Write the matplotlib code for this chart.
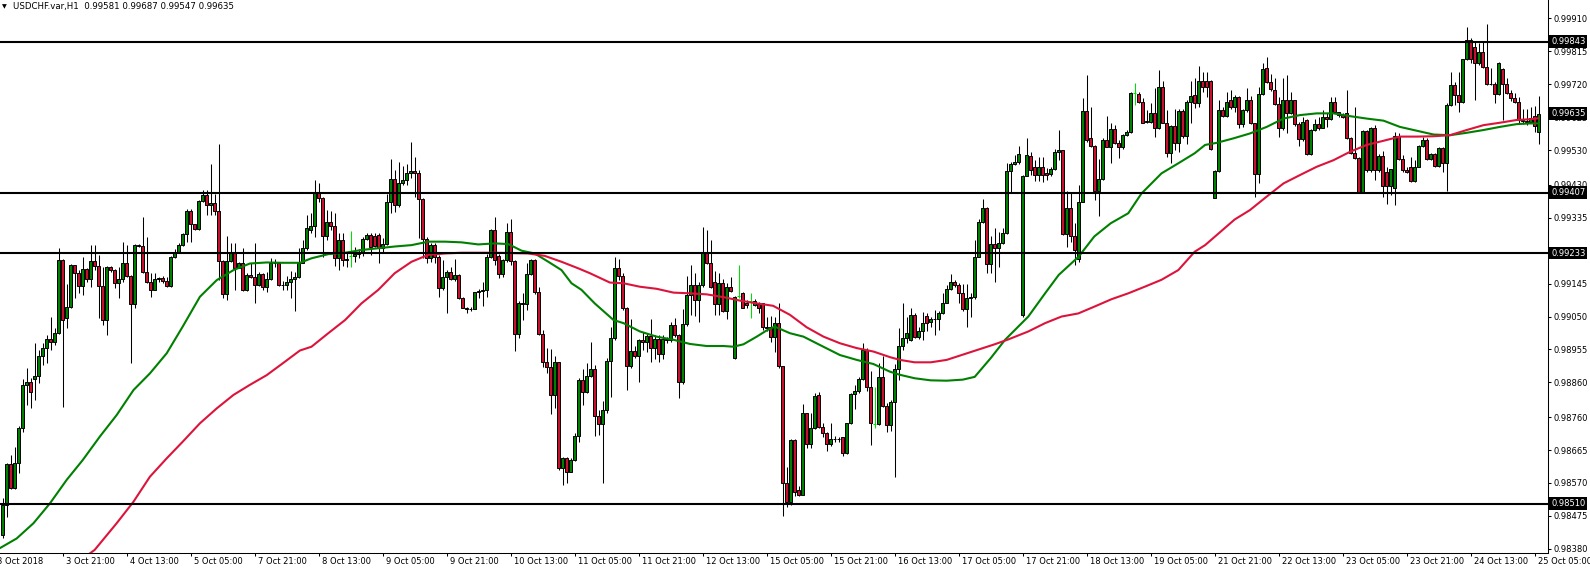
import numpy as np
import matplotlib
matplotlib.use("Agg")
import matplotlib.pyplot as plt
from matplotlib.transforms import blended_transform_factory

# USDCHF H1 bars (price)
opens = [
    0.98420, 0.98507, 0.98624, 0.98555, 0.98627, 0.98728, 0.98853, 0.98860, 0.98871, 0.98879,
    0.98936, 0.98958, 0.98984, 0.98978, 0.99002, 0.99213, 0.99045, 0.99077, 0.99199, 0.99177,
    0.99139, 0.99186, 0.99157, 0.99210, 0.99197, 0.99139, 0.99040, 0.99194, 0.99184, 0.99146,
    0.99158, 0.99203, 0.99168, 0.99085, 0.99256, 0.99254, 0.99179, 0.99149, 0.99128, 0.99158,
    0.99160, 0.99153, 0.99138, 0.99223, 0.99235, 0.99256, 0.99287, 0.99355, 0.99316, 0.99302,
    0.99383, 0.99401, 0.99372, 0.99377, 0.99354, 0.99210, 0.99114, 0.99210, 0.99237, 0.99191,
    0.99203, 0.99126, 0.99170, 0.99164, 0.99140, 0.99173, 0.99136, 0.99157, 0.99205, 0.99203,
    0.99141, 0.99140, 0.99151, 0.99158, 0.99165, 0.99205, 0.99249, 0.99300, 0.99312, 0.99405,
    0.99391, 0.99282, 0.99322, 0.99311, 0.99220, 0.99271, 0.99213, 0.99225, 0.99225, 0.99230,
    0.99237, 0.99273, 0.99285, 0.99282, 0.99285, 0.99247, 0.99258, 0.99381, 0.99446, 0.99372,
    0.99434, 0.99444, 0.99465, 0.99471, 0.99463, 0.99389, 0.99275, 0.99220, 0.99256, 0.99223,
    0.99131, 0.99165, 0.99178, 0.99158, 0.99170, 0.99103, 0.99076, 0.99072, 0.99073, 0.99120,
    0.99124, 0.99127, 0.99223, 0.99300, 0.99225, 0.99172, 0.99213, 0.99293, 0.99210, 0.98999,
    0.99088, 0.99086, 0.99172, 0.99213, 0.99120, 0.99000, 0.98918, 0.98905, 0.98824, 0.98918,
    0.98612, 0.98643, 0.98603, 0.98636, 0.98706, 0.98867, 0.98831, 0.98879, 0.98900, 0.98762,
    0.98739, 0.98781, 0.98922, 0.98987, 0.99189, 0.99168, 0.99076, 0.98906, 0.98951, 0.98935,
    0.98983, 0.98976, 0.98994, 0.98959, 0.98985, 0.98941, 0.98985, 0.98983, 0.99026, 0.98997,
    0.98860, 0.99028, 0.99112, 0.99141, 0.99098, 0.99141, 0.99234, 0.99204, 0.99150, 0.99085,
    0.99146, 0.99066, 0.99134, 0.98930, 0.99108, 0.99117, 0.99088, 0.99095, 0.99082, 0.99085,
    0.99088, 0.99021, 0.99019, 0.98990, 0.99031, 0.98906, 0.98571, 0.98516, 0.98694, 0.98550,
    0.98536, 0.98771, 0.98682, 0.98728, 0.98824, 0.98730, 0.98715, 0.98683, 0.98696, 0.98697,
    0.98702, 0.98656, 0.98742, 0.98827, 0.98836, 0.98869, 0.98954, 0.98846, 0.98739, 0.98739,
    0.98877, 0.98793, 0.98736, 0.98803, 0.98899, 0.98965, 0.98988, 0.98983, 0.99055, 0.98992,
    0.99007, 0.99052, 0.99035, 0.99042, 0.99043, 0.99059, 0.99090, 0.99129, 0.99151, 0.99141,
    0.99117, 0.99071, 0.99103, 0.99106, 0.99223, 0.99322, 0.99362, 0.99202, 0.99259, 0.99247,
    0.99263, 0.99290, 0.99470, 0.99490, 0.99497, 0.99055, 0.99455, 0.99514, 0.99482, 0.99458,
    0.99480, 0.99463, 0.99460, 0.99475, 0.99526, 0.99529, 0.99287, 0.99362, 0.99282, 0.99215,
    0.99381, 0.99643, 0.99564, 0.99542, 0.99413, 0.99446, 0.99559, 0.99540, 0.99590, 0.99550,
    0.99538, 0.99574, 0.99583, 0.99694, 0.99692, 0.99670, 0.99614, 0.99611, 0.99636, 0.99593,
    0.99711, 0.99609, 0.99521, 0.99600, 0.99550, 0.99644, 0.99570, 0.99670, 0.99689, 0.99667,
    0.99730, 0.99730, 0.99729, 0.99393, 0.99470, 0.99645, 0.99628, 0.99674, 0.99653, 0.99684,
    0.99604, 0.99645, 0.99676, 0.99607, 0.99460, 0.99692, 0.99768, 0.99727, 0.99703, 0.99663,
    0.99595, 0.99676, 0.99636, 0.99674, 0.99605, 0.99561, 0.99617, 0.99520, 0.99588, 0.99604,
    0.99595, 0.99626, 0.99619, 0.99669, 0.99641, 0.99631, 0.99636, 0.99564, 0.99523, 0.99506,
    0.99407, 0.99585, 0.99472, 0.99593, 0.99472, 0.99513, 0.99468, 0.99427, 0.99420, 0.99571,
    0.99504, 0.99474, 0.99482, 0.99442, 0.99482, 0.99543, 0.99559, 0.99503, 0.99518, 0.99484,
    0.99535, 0.99494, 0.99660, 0.99719, 0.99689, 0.99669, 0.99792, 0.99847, 0.99828, 0.99780,
    0.99814, 0.99770, 0.99722, 0.99720, 0.99692, 0.99763, 0.99722, 0.99696, 0.99679, 0.99669,
    0.99617, 0.99615, 0.99612, 0.99627, 0.99581,
]
highs = [
    0.98526, 0.98627, 0.98651, 0.98675, 0.98734, 0.98869, 0.98901, 0.98872, 0.98973, 0.98954,
    0.98973, 0.98997, 0.99048, 0.99016, 0.99247, 0.99215, 0.99144, 0.99201, 0.99200, 0.99184,
    0.99223, 0.99189, 0.99256, 0.99256, 0.99228, 0.99194, 0.99196, 0.99196, 0.99186, 0.99194,
    0.99266, 0.99256, 0.99170, 0.99258, 0.99258, 0.99336, 0.99278, 0.99175, 0.99175, 0.99165,
    0.99168, 0.99165, 0.99225, 0.99244, 0.99261, 0.99290, 0.99359, 0.99359, 0.99318, 0.99386,
    0.99415, 0.99415, 0.99490, 0.99403, 0.99548, 0.99212, 0.99282, 0.99261, 0.99261, 0.99208,
    0.99249, 0.99175, 0.99203, 0.99263, 0.99179, 0.99175, 0.99179, 0.99218, 0.99215, 0.99205,
    0.99153, 0.99168, 0.99182, 0.99179, 0.99247, 0.99271, 0.99343, 0.99348, 0.99444, 0.99434,
    0.99396, 0.99357, 0.99355, 0.99348, 0.99290, 0.99290, 0.99232, 0.99297, 0.99252, 0.99246,
    0.99280, 0.99290, 0.99290, 0.99290, 0.99290, 0.99276, 0.99403, 0.99503, 0.99473, 0.99497,
    0.99484, 0.99490, 0.99552, 0.99511, 0.99474, 0.99391, 0.99278, 0.99261, 0.99261, 0.99228,
    0.99213, 0.99184, 0.99194, 0.99215, 0.99173, 0.99105, 0.99078, 0.99077, 0.99122, 0.99129,
    0.99151, 0.99230, 0.99302, 0.99336, 0.99230, 0.99215, 0.99319, 0.99330, 0.99212, 0.99096,
    0.99117, 0.99205, 0.99215, 0.99215, 0.99136, 0.99011, 0.98958, 0.98955, 0.98937, 0.98920,
    0.98646, 0.98646, 0.98641, 0.98713, 0.98872, 0.98898, 0.98915, 0.98978, 0.98910, 0.98781,
    0.98805, 0.98930, 0.99021, 0.99221, 0.99215, 0.99175, 0.99078, 0.99042, 0.98965, 0.98985,
    0.99004, 0.99002, 0.99042, 0.98997, 0.98997, 0.98997, 0.98992, 0.99035, 0.99045, 0.98999,
    0.99071, 0.99167, 0.99199, 0.99175, 0.99151, 0.99309, 0.99300, 0.99271, 0.99180, 0.99177,
    0.99158, 0.99146, 0.99165, 0.99108, 0.99199, 0.99122, 0.99098, 0.99117, 0.99100, 0.99093,
    0.99090, 0.99050, 0.99052, 0.99050, 0.99090, 0.98908, 0.98617, 0.98696, 0.98696, 0.98560,
    0.98798, 0.98773, 0.98771, 0.98829, 0.98831, 0.98744, 0.98718, 0.98744, 0.98706, 0.98704,
    0.98704, 0.98744, 0.98829, 0.98853, 0.98875, 0.98975, 0.98959, 0.98893, 0.98848, 0.98917,
    0.98936, 0.98800, 0.98810, 0.98913, 0.99016, 0.99088, 0.99050, 0.99074, 0.99059, 0.99021,
    0.99064, 0.99059, 0.99050, 0.99069, 0.99067, 0.99117, 0.99141, 0.99173, 0.99156, 0.99148,
    0.99144, 0.99144, 0.99117, 0.99271, 0.99331, 0.99388, 0.99367, 0.99281, 0.99305, 0.99295,
    0.99305, 0.99492, 0.99497, 0.99516, 0.99542, 0.99458, 0.99564, 0.99526, 0.99502, 0.99509,
    0.99511, 0.99478, 0.99480, 0.99532, 0.99588, 0.99531, 0.99413, 0.99410, 0.99319, 0.99430,
    0.99679, 0.99747, 0.99655, 0.99545, 0.99504, 0.99564, 0.99629, 0.99607, 0.99603, 0.99559,
    0.99577, 0.99588, 0.99699, 0.99725, 0.99699, 0.99679, 0.99646, 0.99665, 0.99708, 0.99761,
    0.99728, 0.99646, 0.99603, 0.99648, 0.99648, 0.99648, 0.99675, 0.99730, 0.99737, 0.99773,
    0.99756, 0.99756, 0.99732, 0.99474, 0.99674, 0.99653, 0.99698, 0.99703, 0.99689, 0.99686,
    0.99650, 0.99708, 0.99686, 0.99609, 0.99713, 0.99780, 0.99799, 0.99751, 0.99737, 0.99684,
    0.99737, 0.99746, 0.99698, 0.99674, 0.99612, 0.99626, 0.99621, 0.99590, 0.99621, 0.99626,
    0.99645, 0.99638, 0.99684, 0.99682, 0.99641, 0.99636, 0.99703, 0.99569, 0.99655, 0.99511,
    0.99588, 0.99588, 0.99597, 0.99602, 0.99520, 0.99528, 0.99482, 0.99477, 0.99583, 0.99578,
    0.99516, 0.99482, 0.99511, 0.99501, 0.99545, 0.99569, 0.99564, 0.99522, 0.99522, 0.99540,
    0.99540, 0.99665, 0.99756, 0.99727, 0.99756, 0.99794, 0.99886, 0.99852, 0.99845, 0.99838,
    0.99843, 0.99893, 0.99766, 0.99727, 0.99785, 0.99766, 0.99737, 0.99703, 0.99694, 0.99684,
    0.99650, 0.99650, 0.99655, 0.99657, 0.99687,
]
lows = [
    0.98410, 0.98473, 0.98552, 0.98552, 0.98598, 0.98718, 0.98795, 0.98785, 0.98809, 0.98857,
    0.98910, 0.98915, 0.98954, 0.98968, 0.99000, 0.98790, 0.99016, 0.99074, 0.99103, 0.99117,
    0.99112, 0.99151, 0.99136, 0.99184, 0.99045, 0.99026, 0.98997, 0.99179, 0.99131, 0.99103,
    0.99151, 0.99165, 0.98915, 0.99074, 0.99252, 0.99175, 0.99146, 0.99107, 0.99126, 0.99150,
    0.99148, 0.99136, 0.99134, 0.99220, 0.99232, 0.99254, 0.99266, 0.99266, 0.99300, 0.99300,
    0.99381, 0.99343, 0.99343, 0.99343, 0.99155, 0.99103, 0.99098, 0.99208, 0.99126, 0.99189,
    0.99125, 0.99124, 0.99160, 0.99088, 0.99138, 0.99126, 0.99122, 0.99155, 0.99194, 0.99138,
    0.99128, 0.99128, 0.99103, 0.99067, 0.99160, 0.99203, 0.99242, 0.99290, 0.99280, 0.99381,
    0.99223, 0.99271, 0.99300, 0.99196, 0.99184, 0.99196, 0.99194, 0.99194, 0.99208, 0.99220,
    0.99225, 0.99271, 0.99228, 0.99250, 0.99205, 0.99237, 0.99256, 0.99348, 0.99352, 0.99365,
    0.99429, 0.99429, 0.99449, 0.99396, 0.99276, 0.99218, 0.99205, 0.99208, 0.99205, 0.99107,
    0.99126, 0.99059, 0.99155, 0.99153, 0.99101, 0.99074, 0.99059, 0.99067, 0.99072, 0.99103,
    0.99080, 0.99107, 0.99218, 0.99199, 0.99160, 0.99165, 0.99208, 0.99199, 0.98952, 0.98987,
    0.99040, 0.99069, 0.99170, 0.99115, 0.98998, 0.98904, 0.98886, 0.98769, 0.98787, 0.98607,
    0.98564, 0.98569, 0.98601, 0.98632, 0.98689, 0.98795, 0.98829, 0.98877, 0.98706, 0.98709,
    0.98571, 0.98771, 0.98817, 0.98983, 0.99156, 0.99069, 0.98838, 0.98901, 0.98930, 0.98862,
    0.98954, 0.98947, 0.98920, 0.98927, 0.98920, 0.98927, 0.98973, 0.98978, 0.98992, 0.98814,
    0.98856, 0.99023, 0.99055, 0.99052, 0.99035, 0.99136, 0.99202, 0.99132, 0.99055, 0.99055,
    0.99064, 0.99043, 0.99122, 0.98928, 0.99103, 0.99074, 0.99074, 0.99047, 0.99079, 0.99060,
    0.99011, 0.99007, 0.98978, 0.98949, 0.98903, 0.98475, 0.98502, 0.98507, 0.98533, 0.98531,
    0.98534, 0.98670, 0.98672, 0.98725, 0.98728, 0.98704, 0.98663, 0.98678, 0.98689, 0.98689,
    0.98648, 0.98653, 0.98739, 0.98783, 0.98829, 0.98867, 0.98834, 0.98680, 0.98728, 0.98737,
    0.98790, 0.98718, 0.98721, 0.98588, 0.98867, 0.98954, 0.98973, 0.98980, 0.98987, 0.98984,
    0.98983, 0.99007, 0.99021, 0.98997, 0.99011, 0.99057, 0.99088, 0.99127, 0.99136, 0.99088,
    0.99067, 0.99021, 0.99048, 0.99100, 0.99221, 0.99319, 0.99175, 0.99175, 0.99151, 0.99194,
    0.99258, 0.99288, 0.99410, 0.99487, 0.99490, 0.99050, 0.99455, 0.99458, 0.99442, 0.99442,
    0.99439, 0.99444, 0.99455, 0.99473, 0.99502, 0.99285, 0.99252, 0.99266, 0.99199, 0.99206,
    0.99379, 0.99554, 0.99540, 0.99386, 0.99340, 0.99444, 0.99538, 0.99492, 0.99548, 0.99506,
    0.99532, 0.99571, 0.99579, 0.99660, 0.99665, 0.99607, 0.99607, 0.99607, 0.99569, 0.99590,
    0.99607, 0.99511, 0.99494, 0.99530, 0.99526, 0.99565, 0.99548, 0.99607, 0.99651, 0.99655,
    0.99699, 0.99684, 0.99530, 0.99391, 0.99468, 0.99626, 0.99626, 0.99650, 0.99641, 0.99595,
    0.99597, 0.99641, 0.99605, 0.99394, 0.99434, 0.99689, 0.99724, 0.99701, 0.99660, 0.99569,
    0.99588, 0.99580, 0.99634, 0.99600, 0.99542, 0.99555, 0.99515, 0.99515, 0.99585, 0.99588,
    0.99595, 0.99597, 0.99617, 0.99636, 0.99626, 0.99624, 0.99561, 0.99520, 0.99503, 0.99405,
    0.99405, 0.99468, 0.99468, 0.99445, 0.99468, 0.99396, 0.99376, 0.99400, 0.99371, 0.99501,
    0.99468, 0.99463, 0.99439, 0.99439, 0.99480, 0.99540, 0.99501, 0.99501, 0.99480, 0.99482,
    0.99468, 0.99413, 0.99657, 0.99660, 0.99641, 0.99667, 0.99790, 0.99780, 0.99674, 0.99775,
    0.99766, 0.99718, 0.99718, 0.99667, 0.99689, 0.99617, 0.99692, 0.99672, 0.99665, 0.99605,
    0.99605, 0.99602, 0.99607, 0.99583, 0.99547,
]
closes = [
    0.98507, 0.98624, 0.98555, 0.98627, 0.98728, 0.98853, 0.98860, 0.98833, 0.98879, 0.98936,
    0.98958, 0.98984, 0.98978, 0.99002, 0.99213, 0.99040, 0.99077, 0.99199, 0.99177, 0.99139,
    0.99186, 0.99157, 0.99210, 0.99197, 0.99139, 0.99040, 0.99194, 0.99184, 0.99146, 0.99158,
    0.99203, 0.99168, 0.99085, 0.99256, 0.99254, 0.99179, 0.99149, 0.99128, 0.99158, 0.99160,
    0.99153, 0.99138, 0.99223, 0.99235, 0.99256, 0.99287, 0.99355, 0.99316, 0.99302, 0.99383,
    0.99401, 0.99372, 0.99377, 0.99354, 0.99210, 0.99114, 0.99210, 0.99237, 0.99191, 0.99203,
    0.99126, 0.99170, 0.99164, 0.99140, 0.99173, 0.99136, 0.99157, 0.99205, 0.99203, 0.99141,
    0.99140, 0.99151, 0.99158, 0.99165, 0.99205, 0.99249, 0.99304, 0.99312, 0.99405, 0.99391,
    0.99282, 0.99322, 0.99311, 0.99220, 0.99271, 0.99213, 0.99217, 0.99225, 0.99230, 0.99237,
    0.99273, 0.99285, 0.99252, 0.99254, 0.99247, 0.99258, 0.99381, 0.99446, 0.99372, 0.99434,
    0.99444, 0.99465, 0.99471, 0.99463, 0.99389, 0.99275, 0.99220, 0.99256, 0.99223, 0.99131,
    0.99165, 0.99178, 0.99158, 0.99170, 0.99103, 0.99076, 0.99072, 0.99073, 0.99120, 0.99124,
    0.99127, 0.99223, 0.99300, 0.99213, 0.99172, 0.99213, 0.99293, 0.99210, 0.98999, 0.99088,
    0.99086, 0.99172, 0.99213, 0.99120, 0.99000, 0.98918, 0.98905, 0.98824, 0.98918, 0.98612,
    0.98643, 0.98603, 0.98636, 0.98706, 0.98867, 0.98831, 0.98879, 0.98900, 0.98762, 0.98739,
    0.98781, 0.98922, 0.98987, 0.99189, 0.99168, 0.99076, 0.98906, 0.98951, 0.98935, 0.98983,
    0.98976, 0.98994, 0.98959, 0.98985, 0.98941, 0.98985, 0.98983, 0.99026, 0.98997, 0.98860,
    0.99028, 0.99112, 0.99141, 0.99098, 0.99141, 0.99234, 0.99204, 0.99136, 0.99085, 0.99146,
    0.99066, 0.99134, 0.99125, 0.99105, 0.99108, 0.99076, 0.99082, 0.99095, 0.99095, 0.99076,
    0.99021, 0.99016, 0.98990, 0.99031, 0.98906, 0.98571, 0.98516, 0.98694, 0.98543, 0.98536,
    0.98771, 0.98682, 0.98728, 0.98821, 0.98730, 0.98715, 0.98683, 0.98696, 0.98697, 0.98698,
    0.98656, 0.98742, 0.98827, 0.98836, 0.98869, 0.98954, 0.98846, 0.98744, 0.98739, 0.98877,
    0.98793, 0.98736, 0.98803, 0.98899, 0.98965, 0.98988, 0.99002, 0.99055, 0.98992, 0.99007,
    0.99032, 0.99032, 0.99042, 0.99043, 0.99059, 0.99090, 0.99129, 0.99151, 0.99141, 0.99117,
    0.99071, 0.99103, 0.99106, 0.99223, 0.99322, 0.99362, 0.99202, 0.99259, 0.99247, 0.99263,
    0.99290, 0.99470, 0.99490, 0.99497, 0.99518, 0.99455, 0.99516, 0.99473, 0.99458, 0.99482,
    0.99458, 0.99458, 0.99475, 0.99526, 0.99529, 0.99287, 0.99362, 0.99282, 0.99242, 0.99381,
    0.99643, 0.99559, 0.99542, 0.99413, 0.99446, 0.99559, 0.99540, 0.99590, 0.99550, 0.99538,
    0.99574, 0.99583, 0.99694, 0.99694, 0.99670, 0.99609, 0.99611, 0.99636, 0.99593, 0.99711,
    0.99609, 0.99521, 0.99600, 0.99550, 0.99644, 0.99570, 0.99670, 0.99686, 0.99667, 0.99730,
    0.99711, 0.99713, 0.99532, 0.99470, 0.99645, 0.99628, 0.99669, 0.99653, 0.99684, 0.99604,
    0.99645, 0.99676, 0.99607, 0.99460, 0.99692, 0.99763, 0.99727, 0.99705, 0.99663, 0.99595,
    0.99676, 0.99636, 0.99674, 0.99605, 0.99561, 0.99612, 0.99520, 0.99588, 0.99604, 0.99595,
    0.99626, 0.99619, 0.99669, 0.99641, 0.99631, 0.99626, 0.99564, 0.99523, 0.99506, 0.99407,
    0.99585, 0.99472, 0.99593, 0.99472, 0.99513, 0.99427, 0.99427, 0.99475, 0.99571, 0.99504,
    0.99474, 0.99468, 0.99442, 0.99482, 0.99543, 0.99559, 0.99503, 0.99518, 0.99484, 0.99535,
    0.99494, 0.99660, 0.99719, 0.99689, 0.99669, 0.99792, 0.99847, 0.99792, 0.99780, 0.99814,
    0.99770, 0.99722, 0.99720, 0.99692, 0.99780, 0.99722, 0.99696, 0.99679, 0.99669, 0.99617,
    0.99615, 0.99612, 0.99622, 0.99600, 0.99635,
]

# moving averages, read at bar positions
fast_ma_bar = [-0.7, 3.5, 7.7, 11.8, 16, 20, 24.3, 28.5, 32.7, 36.8, 41, 45, 49.3, 53.5, 57.7,
               61.8, 66, 70, 74.3, 77.2, 81.4, 85.6, 89.7, 93.9, 98, 102.2, 106.4, 110.6, 114.7,
               118.9, 123, 126.4, 129.7, 133, 136.4, 139.7, 142.2, 144.7, 148, 152.7, 155.2,
               159.3, 163.5, 167.7, 171.8, 176, 180.2, 182.7, 185.2, 188.5, 191, 193, 196.8,
               200.2, 204.3, 209.3, 213.5, 217.7, 221.8, 224.3, 228, 232, 236, 240, 243, 247,
               250.6, 256.4, 260.6, 264, 269, 272.9, 277, 281.4, 284.7, 289.7, 293.9, 298,
               300.6, 303.5, 307.7, 311.8, 316, 320.2, 324.3, 328.5, 332.7, 336.8, 341, 345.2,
               349.3, 353.5, 357.7, 361.8, 366, 370.2, 374.3, 378.5, 381.8, 384]
fast_ma = [0.98382, 0.98410, 0.98454, 0.98511, 0.98579, 0.98636, 0.98704, 0.98766, 0.98838,
           0.98886, 0.98944, 0.99021, 0.99107, 0.99155, 0.99184, 0.99203, 0.99206, 0.99205,
           0.99205, 0.99218, 0.99230, 0.99234, 0.99242, 0.99247, 0.99252, 0.99256, 0.99266,
           0.99266, 0.99264, 0.99258, 0.99261, 0.99259, 0.99240, 0.99232, 0.99208, 0.99184,
           0.99146, 0.99127, 0.99088, 0.99040, 0.99031, 0.99007, 0.98992, 0.98983, 0.98971,
           0.98965, 0.98965, 0.98963, 0.98970, 0.98992, 0.99010, 0.99021, 0.99002, 0.98992,
           0.98968, 0.98939, 0.98925, 0.98913, 0.98891, 0.98882, 0.98872, 0.98866, 0.98865,
           0.98868, 0.98876, 0.98930, 0.98983, 0.99050, 0.99117, 0.99170, 0.99223, 0.99281,
           0.99319, 0.99348, 0.99405, 0.99463, 0.99492, 0.99521, 0.99545, 0.99551, 0.99564,
           0.99578, 0.99597, 0.99621, 0.99631, 0.99636, 0.99636, 0.99628, 0.99621, 0.99615,
           0.99597, 0.99586, 0.99575, 0.99573, 0.99580, 0.99588, 0.99597, 0.99605, 0.99607,
           0.99607]
slow_ma_bar = [21, 23, 28.5, 32.7, 36.8, 41, 45, 49.3, 53.5, 57.7, 61.8, 66, 70, 74.3, 77.2,
               81.4, 85.6, 89.7, 93.9, 98, 102.2, 106.4, 110.6, 114.7, 123, 131.3, 135.5,
               139.7, 143.9, 146.8, 151.8, 155.2, 159.3, 163.5, 167.7, 171.8, 176, 180.2,
               184.3, 188.5, 192.6, 196.8, 201, 205.2, 209.3, 213.5, 217.7, 221.8, 224.3,
               228, 232, 236, 240, 244, 248, 251.4, 256.4, 260.6, 264.7, 268.9, 273, 277.2,
               281.4, 285.5, 289.7, 293.9, 298, 300.6, 308, 311.8, 316, 320.2, 324.3, 328.5,
               332.7, 336.8, 341, 345.2, 349.3, 353.5, 357.7, 361.8, 366, 370.2, 374.3,
               378.5, 381.8, 384]
slow_ma = [0.98360, 0.98377, 0.98454, 0.98516, 0.98588, 0.98641, 0.98689, 0.98742, 0.98785,
           0.98824, 0.98853, 0.98881, 0.98915, 0.98952, 0.98963, 0.99002, 0.99040, 0.99088,
           0.99127, 0.99175, 0.99208, 0.99228, 0.99232, 0.99234, 0.99234, 0.99232, 0.99225,
           0.99208, 0.99189, 0.99175, 0.99148, 0.99146, 0.99136, 0.99130, 0.99119, 0.99117,
           0.99114, 0.99106, 0.99096, 0.99088, 0.99081, 0.99055, 0.99019, 0.98992, 0.98973,
           0.98959, 0.98949, 0.98933, 0.98925, 0.98918, 0.98918, 0.98925, 0.98940, 0.98955,
           0.98970, 0.98984, 0.99007, 0.99031, 0.99050, 0.99059, 0.99079, 0.99100, 0.99117,
           0.99136, 0.99156, 0.99184, 0.99237, 0.99256, 0.99330, 0.99357, 0.99396, 0.99434,
           0.99458, 0.99482, 0.99501, 0.99525, 0.99545, 0.99557, 0.99569, 0.99569, 0.99570,
           0.99573, 0.99588, 0.99602, 0.99609, 0.99617, 0.99619, 0.99622]

levels = [0.99843, 0.99407, 0.99233, 0.98510]
price_ticks = [0.98380, 0.98475, 0.98570, 0.98665, 0.98760, 0.98860, 0.98955, 0.99050,
               0.99145, 0.99240, 0.99335, 0.99430, 0.99530, 0.99625, 0.99720, 0.99815, 0.99910]
first_date = "3 Oct 2018"
time_labels = ["3 Oct 21:00", "4 Oct 13:00", "5 Oct 05:00", "7 Oct 21:00", "8 Oct 13:00",
               "9 Oct 05:00", "9 Oct 21:00", "10 Oct 13:00", "11 Oct 05:00", "11 Oct 21:00",
               "12 Oct 13:00", "15 Oct 05:00", "15 Oct 21:00", "16 Oct 13:00", "17 Oct 05:00",
               "17 Oct 21:00", "18 Oct 13:00", "19 Oct 05:00", "21 Oct 21:00", "22 Oct 13:00",
               "23 Oct 05:00", "23 Oct 21:00", "24 Oct 13:00", "25 Oct 05:00"]

o = np.array(opens)
h = np.array(highs)
l = np.array(lows)
c = np.array(closes)
x = np.arange(len(c))

plt.rcParams['font.family'] = ['DejaVu Sans']

W, H = 1590, 571
fig = plt.figure(figsize=(W / 100, H / 100), dpi=100)
ax = fig.add_axes([0, 18 / H, 1548 / W, 553 / H])

up = c > o
dn = c < o
flat = c == o

ax.vlines(x[~flat], l[~flat], h[~flat], color='black', lw=0.75, zorder=2)
ax.bar(x[up], c[up] - o[up], bottom=o[up], width=0.75, color='#008000',
       edgecolor='black', lw=0.7, zorder=3)
ax.bar(x[dn], c[dn] - o[dn], bottom=o[dn], width=0.75, color='#C8102E',
       edgecolor='black', lw=0.7, zorder=3)
ax.vlines(x[flat], l[flat], h[flat], color='#00E000', lw=0.75, zorder=3)
ax.hlines(c[flat], x[flat] - 0.4, x[flat] + 0.4, color='#00E000', lw=0.75, zorder=3)

ax.plot(fast_ma_bar, fast_ma, color='#008000', lw=1.5, zorder=4,
        solid_joinstyle='round', solid_capstyle='round')
ax.plot(slow_ma_bar, slow_ma, color='#DC143C', lw=1.5, zorder=4,
        solid_joinstyle='round', solid_capstyle='round')

for lev in levels:
    ax.axhline(lev, color='black', lw=1.5, zorder=5)

ax.set_xlim(-0.675, 386.325)
ax.set_ylim(0.98368, 0.99963)

for s in ['top', 'left']:
    ax.spines[s].set_visible(False)
for s in ['bottom', 'right']:
    ax.spines[s].set_linewidth(0.75)

ax.yaxis.tick_right()
ax.set_yticks(price_ticks)
ax.set_yticklabels([f'{p:.5f}' for p in price_ticks])
ax.tick_params(axis='y', length=2.5, width=0.75, pad=1.5, labelsize=6)

label_bars = [15 + 16 * k for k in range(len(time_labels))]
ax.set_xticks(label_bars)
ax.set_xticklabels([])
ax.tick_params(axis='x', length=2.5, width=0.75)

tx = blended_transform_factory(ax.transData, ax.transAxes)
ax.text(-1.4, -0.007, first_date, transform=tx, ha='left', va='top', fontsize=6, clip_on=False)
for b, t in zip(label_bars, time_labels):
    ax.text(b + 0.9, -0.007, t, transform=tx, ha='left', va='top', fontsize=6, clip_on=False)

ty = blended_transform_factory(ax.transAxes, ax.transData)
for lev in levels + [c[-1]]:
    ax.text(1.0 + 3 / 1548, lev, f'{lev:.5f}', transform=ty, ha='left', va='center',
            fontsize=6, color='white', clip_on=False, zorder=6,
            bbox=dict(boxstyle='square,pad=0.22', fc='black', ec='none'))

fig.text(2 / W, 1 - 6.5 / H, '\u25bc', fontsize=4.5, va='center', ha='left')
fig.text(13 / W, 1 - 6.5 / H,
         f'USDCHF.var,H1  {o[-1]:.5f} {h[-1]:.5f} {l[-1]:.5f} {c[-1]:.5f}',
         fontsize=6.2, va='center', ha='left')

fig.savefig('out.png', dpi=100)
